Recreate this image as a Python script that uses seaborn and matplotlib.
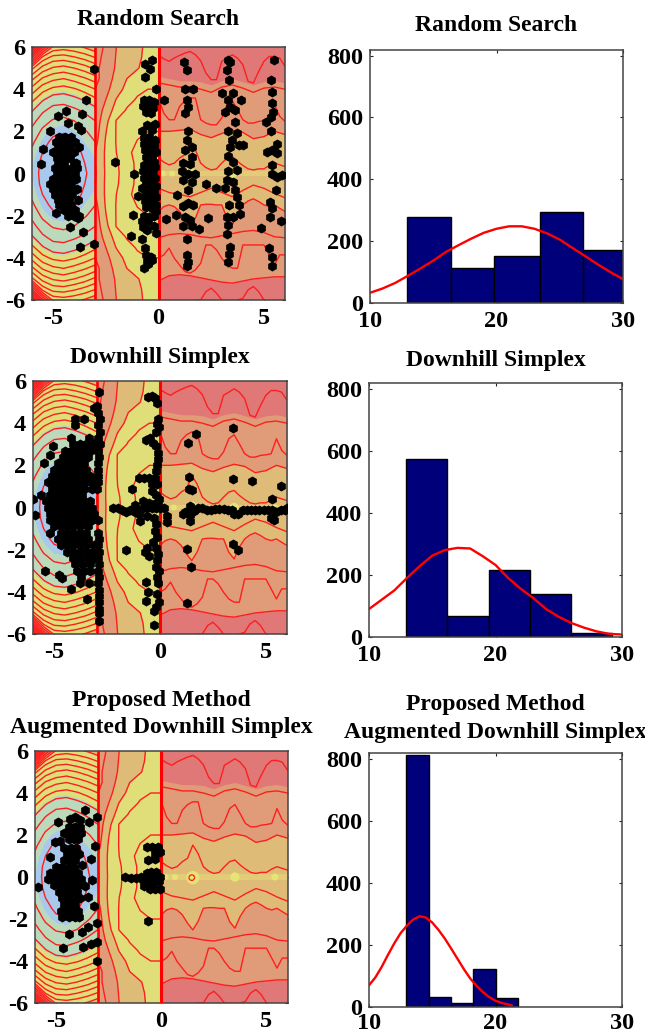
import numpy as np
import seaborn as sns
import matplotlib
matplotlib.use("Agg")
import matplotlib.pyplot as plt

sns.set_style("white")
plt.rcParams["font.family"] = ["Liberation Serif", "DejaVu Serif"]
plt.rcParams["font.weight"] = "bold"
plt.rcParams["axes.unicode_minus"] = False
plt.rcParams["text.color"] = "black"
plt.rcParams["xtick.color"] = "black"
plt.rcParams["ytick.color"] = "black"

# background field, left part (x -6..-3), rows y = 0..6, mirrored below
left_x = [-6, -5.5, -5, -4.5, -4, -3.5, -3]
half_y = [0, .5, 1, 1.5, 2, 2.5, 3, 3.5, 4, 4.5, 5, 5.5, 6]
left_z = [
    [1.5, .7, .1, 0, .3, .9, 1.4],
    [1.6, .75, .2, .1, .4, 1, 1.45],
    [1.8, 1, .4, .3, .6, 1.2, 1.6],
    [2.2, 1.3, .8, .6, .9, 1.5, 2.0],
    [2.7, 1.8, 1.2, 1.1, 1.4, 1.9, 2.4],
    [3.4, 2.4, 1.9, 1.75, 2, 2.5, 3],
    [4.1, 3.2, 2.6, 2.5, 2.8, 3.2, 3.7],
    [5.0, 4.1, 3.5, 3.4, 3.7, 4.1, 4.6],
    [6.1, 5.1, 4.6, 4.45, 4.7, 5.1, 5.6],
    [7.4, 6.3, 5.8, 5.6, 5.9, 6.3, 6.8],
    [9, 7.7, 7.1, 6.9, 7.2, 7.6, 8.2],
    [13, 9.3, 8.5, 8.4, 8.7, 9.1, 9.6],
    [18, 13, 10.2, 10, 10.2, 10.5, 11],
]
left_levels = [1, 2, 3, 4, 4.8, 5.6, 6.4, 7.2, 8, 8.8, 9.6, 10.4, 11.2, 12, 12.8, 13.6, 14.4, 15.2, 16, 16.8, 17.6]

# middle part (x -3..0)
mid_x = [-3, -2.5, -2, -1.5, -1, -.5, 0]
mid_z = [
    [4.1, 2.87, 2.2, 1.45, .8, .4, 0],
    [4, 2.85, 2.15, 1.4, .8, .45, .1],
    [4, 2.85, 2, 1.2, .75, .55, .3],
    [4.3, 2.9, 1.95, 1.45, .95, .8, .6],
    [4.5, 3.05, 1.95, 1.7, 1.2, 1, 1],
    [4.6, 3.3, 1.95, 1.7, 1.55, 1.45, 1.4],
    [4.8, 3.6, 2.6, 1.9, 1.75, 1.7, 1.65],
    [5, 4, 2.95, 2.3, 1.9, 1.85, 1.85],
    [5, 4.3, 3.45, 2.7, 2.2, 2, 2],
    [5.3, 4.5, 3.7, 3, 2.65, 2.5, 2.4],
    [5.3, 4.5, 3.9, 3.5, 3.05, 2.7, 2.6],
    [5.5, 4.6, 3.95, 3.5, 3.1, 2.85, 2.8],
    [5.6, 4.8, 4, 3.5, 3.1, 2.9, 2.85],
]

# right part (x 0..6), contour lines read directly
right_x = [0, .5, 1, 1.5, 2, 2.5, 3, 3.5, 4, 4.5, 5, 5.5, 6]
line_d = [4.3, 4.2, 4.1, 4.1, 4.0, 3.85, 4.1, 4.2, 4.05, 3.85, 4.05, 4.1, 4.0]
line_b = [2.0, 2.0, 2.05, 2.1, 1.85, 1.7, 1.9, 2.05, 1.95, 1.65, 1.75, 2.0, 1.85]
line_a2 = [-.7, -.9, -1.0, -1.1, -.9, -.7, -.9, -1.1, -.8, -.55, -.7, -.95, -1.15]
line_c2 = [-3.05, -2.9, -2.85, -2.9, -3, -3.05, -2.95, -2.85, -2.75, -2.7, -2.8, -3, -3.05]
line_e2 = [-5.1, -4.85, -4.8, -4.85, -4.95, -5.05, -5.15, -5.2, -5.1, -5, -4.95, -4.9, -4.9]
pink_top = [4.6, 4.5, 4.4, 4.4, 4.35, 4.2, 4.4, 4.5, 4.35, 4.2, 4.35, 4.4, 4.3]

# the wavy ones need a finer step
wave_x = [0, .25, .5, .75, 1, 1.25, 1.5, 1.75, 2, 2.25, 2.5, 2.75, 3, 3.25, 3.5, 3.75, 4, 4.25, 4.5, 4.75, 5, 5.25, 5.5, 5.75, 6]
line_e = [5.6, 5.44, 5.32, 5.48, 5.6, 5.71, 5.79, 5.63, 5.35, 4.76, 4.45, 4.45, 5.32, 5.47, 5.63, 5.47, 5.16, 4.37, 4.29, 4.84, 5.32, 5.55, 5.55, 5.47, 5.08]
line_c = [3.58, 2.86, 2.55, 2.55, 3.18, 3.45, 3.58, 3.58, 2.55, 2.39, 2.31, 2.31, 2.63, 3.26, 3.45, 3.02, 2.55, 2.39, 2.39, 2.47, 2.5, 2.55, 3.26, 2.71, 2.47]
line_a = [.73, .54, .41, .49, .73, .89, 1.52, 1.12, .49, .28, .17, .22, .49, .73, .81, .57, .38, .22, .17, .22, .22, .38, .49, .41, .33]
line_b2 = [-1.8, -1.57, -1.49, -1.57, -1.8, -2.2, -2.52, -2.12, -1.49, -1.46, -1.46, -1.49, -1.49, -2.12, -2.44, -1.88, -1.49, -1.3, -1.2, -1.33, -1.49, -1.57, -1.49, -1.65, -1.8]
line_d2 = [-4.02, -3.86, -3.54, -4.02, -4.34, -4.65, -4.73, -4.57, -4.26, -3.39, -3.39, -3.62, -4.02, -4.34, -4.49, -4.49, -3.39, -3.39, -3.39, -3.39, -3.39, -3.86, -4.34, -3.86, -3.86]
line_f2 = [-6.23, -6.23, -6.23, -6.23, -6.23, -6.23, -6.23, -6, -6, -5.6, -5.44, -5.68, -6, -6.23, -6.23, -6, -5.92, -5.52, -5.36, -5.6, -6, -6.23, -6.23, -6.23, -6.23]
spots_x = [.2, .65, 1.5, 3.5, 5.4]
spots_y = [0, 0, -.03, 0, 0]
spots_s = [18, 18, 90, 45, 25]

# black points, one row per y band
random_pts = [
    (-3.08, 4.95), (-3.43, 3.5), (-4.38, 2.95), (-4.79, 2.72), (-3.63, 2.8), (-4.3, 2.4), (-3.82, 2.25),
    (-3.68, 2.05), (-5.13, 2.0), (-5.48, 1.15), (-5.58, .47), (-3.59, -2.76), (-3.71, -3.5), (-3.05, -3.35),
    (-4.19, -2.53), (-3.84, -2.13), (-4.85, -1.86),
    (-4.7, 1.75), (-4.45, 1.75), (-4.15, 1.75), (-4.85, 1.5), (-4.6, 1.5), (-4.3, 1.5), (-3.95, 1.5),
    (-4.75, 1.25), (-4.5, 1.25), (-4.2, 1.25), (-3.75, 1.25), (-5.0, 1), (-4.7, 1), (-4.5, 1), (-4.25, 1), (-4.0, 1),
    (-4.8, .75), (-4.55, .75), (-4.2, .75), (-4.75, .5), (-4.5, .5), (-4.0, .5), (-3.9, .5),
    (-4.9, .25), (-4.7, .25), (-4.45, .25), (-4.1, .25), (-3.85, .25), (-4.8, 0), (-4.6, 0), (-4.35, 0), (-3.95, 0),
    (-5.0, -.25), (-4.75, -.25), (-4.5, -.25), (-4.3, -.25), (-3.9, -.25),
    (-5.15, -.5), (-4.9, -.5), (-4.65, -.5), (-4.4, -.5), (-4.15, -.5),
    (-5.0, -.75), (-4.75, -.75), (-4.5, -.75), (-4.2, -.75), (-3.85, -.75), (-4.9, -1), (-4.65, -1), (-4.4, -1), (-4.1, -1),
    (-4.75, -1.25), (-4.5, -1.25), (-4.25, -1.25), (-3.8, -1.25), (-4.7, -1.5), (-4.4, -1.5), (-4.15, -1.5),
    (-4.5, -1.75), (-4.2, -1.75), (-3.95, -1.75), (-4.3, -2), (-4.0, -2), (-3.75, -2),
    (-.32, 5.4), (-.63, 5.2), (-.4, 4.97), (-.63, 4.6), (-.1, 4.0), (.24, 3.5), (-.7, 3.5), (-.45, 3.5), (-.2, 3.4),
    (-.75, 3.2), (-.5, 3.15), (-.25, 3.1), (-.6, 2.9), (-.35, 2.85), (-.55, 2.3), (-.15, 2.35), (-.3, 2.05),
    (-.8, 2.0), (-.7, 1.7), (-.45, 1.75), (-.15, 1.6), (-.7, 1.4), (-.4, 1.4), (-.2, 1.3), (-.65, 1.1), (-.35, 1.05),
    (-.1, 1.0), (-.6, .8), (-.3, .75), (-.5, .5), (-.2, .55), (-.7, .4), (-.45, .35), (-.15, .3), (-.75, .1), (-.5, .1),
    (-.25, .05), (-1.18, 0), (-.7, -.2), (-.45, -.2), (-.15, -.2), (-.6, -.45), (-.3, -.5), (-.1, -.6), (-.8, -.7),
    (-.5, -.75), (-.2, -.85), (-.95, -1.05), (-.6, -1), (-.3, -1.05), (-.1, -1.1), (-.65, -1.3), (-.35, -1.4), (-.1, -1.5),
    (-.6, -1.6), (-.25, -1.7), (-.1, -1.8), (-1.22, -1.97), (-.7, -2), (-.45, -2.05), (-.2, -2.0), (-.8, -2.25), (-.5, -2.3),
    (-.75, -2.55), (-.55, -2.7), (-.2, -2.5), (-.1, -2.8), (-1.3, -2.97), (-.8, -3.13), (-.63, -3.55), (-.6, -3.85),
    (-.35, -3.95), (-.55, -4.15), (-.3, -4.1), (-.71, -4.47), (-.5, -4.3), (-2.05, .55),
    (1.22, 5.3), (1.34, 4.93), (1.26, 4), (1.66, 4.0), (1.34, 3.5), (1.42, 3.15), (1.26, 2.85), (1.39, 2), (1.34, 1.6),
    (1.58, 1.25), (1.26, 1.1), (1.58, .8), (1.18, .5), (1.5, .45), (1.1, .1), (1.42, 0), (1.74, 0), (1.18, -.3), (1.58, -.4),
    (1.42, -.8), (.87, -1), (1.42, -1.4), (1.66, -1.5), (1.18, -1.55), (.84, -1.97), (1.26, -2.05), (1.5, -2.2), (1.18, -2.5),
    (1.58, -2.5), (.36, -2.18), (2.34, -2.13), (1.94, -2.65), (1.37, -3.1), (1.34, -3.87), (1.42, -4.2), (1.37, -4.4),
    (2.26, -.52), (2.73, -.68),
    (3.32, 5.4), (3.24, 4.9), (3.4, 5.3), (3.35, 4.42), (3.0, 3.8), (3.55, 3.8), (3.9, 3.5), (3.3, 3.5), (3.4, 3.15), (3.16, 2.9),
    (3.63, 3.0), (3.63, 2.45), (3.3, 2), (3.7, 1.9), (3.47, 1.6), (4.0, 1.35), (3.4, 1.25), (3.8, 1.35), (3.3, .85), (3.55, .55),
    (3.32, .1), (3.7, .15), (3.24, -.3), (3.55, -.4), (3.16, -.7), (3.63, -.8), (3.7, -1.1), (3.84, -1.5), (3.35, -1.5), (3.87, -1.9),
    (3.24, -2.05), (3.55, -2.05), (3.32, -2.45), (3.27, -2.85), (3.4, -3.5), (3.36, -3.8), (3.32, -4.2),
    (5.48, 5.37), (5.32, 4.42), (5.37, 3.87), (5.37, 3.35), (5.42, 2.9), (5.32, 2.7), (5.1, 2.45), (5.32, 2.0), (5.6, 1.42),
    (5.37, 1.1), (5.13, 1.03), (5.6, .95), (5.37, .4), (5.37, 0), (5.6, -.16), (5.85, -.08), (5.56, -.76), (5.3, -1.35),
    (5.37, -1.65), (5.3, -2.05), (5.8, -2.26), (4.85, -2.57), (5.26, -3.55), (5.37, -3.95), (5.37, -4.4),
]

downhill_pts = [
    (-4.0, 4.2), (-3.6, 4.2), (-4.0, 3.9), (-3.35, 3.3), (-4.2, 3.3), (-4.1, 3), (-3.8, 3), (-3.5, 3), (-5.05, 2.9),
    (-4.5, 2.7), (-4.2, 2.7), (-3.9, 2.7), (-3.6, 2.7), (-3.3, 2.7), (-5.2, 2.5), (-4.6, 2.4), (-4.3, 2.4), (-4.0, 2.4), (-3.7, 2.4), (-3.4, 2.4),
    (-5.5, 2.1), (-4.8, 2.1), (-4.5, 2.1), (-4.2, 2.1), (-3.9, 2.1), (-3.6, 2.1),
    (-5.0, 1.8), (-4.7, 1.8), (-4.4, 1.8), (-4.1, 1.8), (-3.8, 1.8), (-3.5, 1.8),
    (-5.1, 1.5), (-4.8, 1.5), (-4.5, 1.5), (-4.2, 1.5), (-3.9, 1.5), (-3.6, 1.5), (-3.3, 1.5),
    (-5.3, 1.2), (-5.0, 1.2), (-4.7, 1.2), (-4.4, 1.2), (-4.1, 1.2), (-3.8, 1.2), (-3.5, 1.2), (-3.2, 1.2),
    (-5.1, .9), (-4.8, .9), (-4.5, .9), (-4.2, .9), (-3.9, .9), (-3.6, .9), (-3.2, .9),
    (-5.2, .6), (-4.9, .6), (-4.6, .6), (-4.3, .6), (-4.0, .6), (-3.7, .6), (-5.6, .6),
    (-5.4, .3), (-5.1, .3), (-4.8, .3), (-4.5, .3), (-4.2, .3), (-3.9, .3), (-3.6, .3), (-3.3, .3),
    (-5.3, 0), (-5.0, 0), (-4.7, 0), (-4.4, 0), (-4.1, 0), (-3.8, 0), (-3.5, 0), (-3.2, 0), (-6, .4), (-5.9, -.35),
    (-5.2, -.3), (-4.9, -.3), (-4.6, -.3), (-4.3, -.3), (-4.0, -.3), (-3.7, -.3), (-3.4, -.3), (-3.1, -.3),
    (-5.2, -.6), (-4.9, -.6), (-4.6, -.6), (-4.3, -.6), (-4.0, -.6), (-3.7, -.6), (-3.4, -.6), (-3.2, -.6),
    (-5.0, -.9), (-4.7, -.9), (-4.4, -.9), (-4.1, -.9), (-3.8, -.9), (-3.4, -.9),
    (-5.2, -1.2), (-4.7, -1.2), (-4.4, -1.2), (-4.1, -1.2), (-3.8, -1.2), (-3.5, -1.2),
    (-4.8, -1.5), (-4.5, -1.5), (-4.2, -1.5), (-3.9, -1.5), (-3.6, -1.5), (-3.4, -1.5),
    (-4.7, -1.8), (-4.4, -1.8), (-4.1, -1.8), (-3.8, -1.8), (-3.5, -1.8), (-3.1, -1.8),
    (-4.4, -2.1), (-4.1, -2.1), (-3.8, -2.1), (-3.5, -2.1), (-3.2, -2.1),
    (-4.1, -2.4), (-3.8, -2.4), (-3.4, -2.4), (-3.1, -2.4), (-4.0, -2.7), (-3.7, -2.7), (-3.3, -2.7),
    (-5.45, -3), (-3.9, -3), (-3.6, -3), (-3.3, -3), (-4.75, -3.2), (-4.65, -3.35), (-3.75, -3.3), (-3.8, -3.6), (-3.35, -3.6),
    (-4.2, -3.85), (-3.45, -4.35),
    (-2.9, 5.5), (-3.0, 4.8), (-2.95, 4.5), (-2.85, 4.2), (-2.95, 3.9), (-2.85, 3.6), (-2.95, 3.3), (-2.85, 3), (-2.95, 2.7),
    (-2.9, 2.4), (-2.95, 2.1), (-2.95, 1.8), (-2.95, 1.5), (-2.95, 1.2), (-3.0, .9), (-2.95, -.6), (-2.95, -1.2), (-2.9, -1.5),
    (-2.95, -1.8), (-2.9, -2.1), (-2.95, -2.4), (-2.9, -2.7), (-2.95, -3), (-2.9, -3.3), (-2.95, -3.6), (-2.9, -3.9),
    (-2.9, -4.2), (-2.9, -4.5), (-2.9, -4.8), (-2.9, -5.0), (-2.9, -5.4), (-3.1, 4.7), (-3.1, 3.0),
    (-2.2, 0), (-2.0, 0), (-1.8, -.1), (-1.6, -.2), (-1.4, -.1), (-1.2, -.2), (-1, -.1), (-.8, 0), (-.6, 0), (-.4, 0), (-.2, 0), (0, 0), (.2, 0),
    (-1.0, -.3), (-.8, .3), (-.6, -.4), (-.3, -.5), (-1.2, .1), (-.5, .2), (-.2, .2), (-.95, -.65), (-1.34, .88), (.32, -.4),
    (-1.0, 1.4), (-.75, 1.4), (-.5, 1.4), (-.25, 1.4), (-.4, 1.1), (-.15, 1.1), (-.4, .8), (-.2, .6), (-.05, .4), (-.1, .2),
    (-.58, 5.25), (-.24, 5.17), (-.15, 4.95), (-.4, 5.3), (-.08, 4.2), (-.15, 3.95), (-.05, 3.8), (-.2, 3.6), (-.45, 3.3), (-.65, 3.2),
    (-.35, 3.05), (-.2, 2.9), (-.1, 2.6), (-.1, 2.3), (-.15, 2.0), (-.2, 1.75),
    (-.2, -.8), (-.25, -1.1), (-.15, -1.4), (-.35, -1.65), (-.6, -1.9), (-.7, -2.1), (-.5, -2.3), (-.2, -1.9), (-.1, -2.2), (-.15, -2.5),
    (-.2, -2.8), (-.05, -3), (-.15, -3.3), (-.1, -3.6), (-.65, -3.55), (-.55, -4.0), (-.65, -4.45), (-.15, -4.1), (-.2, -4.7), (-.05, -4.5),
    (-.3, -4.9), (-.3, -5.55), (-1.6, -2.0),
    (1.7, 3.5), (1.34, 3.05), (3.47, 3.75), (1.37, 1.43), (1.39, .87), (1.5, .85), (3.47, 1.35), (4.34, 1.28), (5.7, 1.0), (5.28, .41),
    (1.2, -.2), (1.4, .05), (1.4, -.35), (1.6, -.15), (1.8, 0), (2.0, 0), (2.2, -.1), (2.4, -.1), (2.6, -.05), (2.8, -.05), (3.0, -.05),
    (3.2, -.1), (3.4, -.1), (3.5, -.3), (3.7, -.3), (3.9, -.1), (4.1, -.1), (4.3, -.1), (4.5, -.1), (4.7, -.1), (4.9, -.1), (5.1, -.1),
    (5.3, -.1), (5.25, -.5), (5.4, -.6), (5.5, -.2), (5.7, -.1), (5.9, -.1), (6, 0), (1.42, -.66), (1.1, -.3), (.35, -.7),
    (1.29, -1.95), (1.45, -2.8), (3.47, -1.72), (3.7, -2.03), (1.29, -4.55),
]

proposed_pts = [
    (-3.62, 3.2), (-3.07, 2.85), (-3.42, 2.6), (-4.89, 2.6), (-4.1, 2.85), (-3.86, 2.72), (-4.34, 2.77), (-5.87, -.47), (-3.15, 1.5),
    (-3.35, .87), (-3.75, .55), (-3.28, -.16), (-3.62, -.44), (-3.5, -.95), (-3.2, -1.4), (-3.07, -2.18), (-3.78, -2.6), (-3.46, -2.4),
    (-4.38, -2.7), (-4.68, -3.37), (-3.73, -3.35), (-3.35, -3.2), (-3.07, -3.08), (-3.07, -4.0),
    (-4.4, 2.4), (-4.1, 2.4), (-3.85, 2.4), (-4.6, 2.1), (-4.3, 2.1), (-4.0, 2.1), (-3.8, 2.1), (-4.4, 1.8), (-4.15, 1.8), (-3.95, 1.8),
    (-5.05, 1.65), (-4.8, 1.7), (-4.6, 1.4), (-4.3, 1.4), (-4.05, 1.4), (-4.5, 1.1), (-4.2, 1.1), (-3.9, 1.1),
    (-5.28, .95), (-4.6, .8), (-4.35, .8), (-4.1, .8), (-5.0, .5), (-4.7, .5), (-4.4, .5), (-4.15, .5),
    (-5.3, .2), (-5.05, .2), (-4.8, .2), (-4.5, .2), (-4.2, .2), (-3.95, .2),
    (-5.4, -.1), (-5.15, -.1), (-4.9, -.1), (-4.6, -.1), (-4.3, -.1), (-4.0, -.1), (-3.8, -.1),
    (-5.1, -.4), (-4.8, -.4), (-4.5, -.4), (-4.2, -.4), (-3.9, -.4), (-4.85, -.7), (-4.6, -.7), (-4.3, -.7), (-4.0, -.7),
    (-4.7, -1), (-4.45, -1), (-4.2, -1), (-3.85, -1), (-4.6, -1.3), (-4.35, -1.3), (-4.1, -1.3),
    (-4.75, -1.6), (-4.5, -1.6), (-4.2, -1.6), (-3.95, -1.6), (-4.7, -1.9), (-4.4, -1.9), (-4.1, -1.9), (-3.9, -1.9),
    (-1.7, 0), (-1.45, -.05), (-1.2, -.05), (-.95, 0), (-.7, .05), (-.45, .05), (-.2, .05), (-.05, 0),
    (-.85, -.15), (-.6, -.25), (-.35, -.25), (-.1, -.2), (-.8, -.45), (-.55, -.55), (-.3, -.55), (-.05, -.55), (-.7, .2), (-.5, .25), (-.25, .25),
    (-.7, 1.43), (-.46, 1.43), (-.14, 1.43), (-.3, 1.1), (-.06, 1.2), (-.62, .8), (-.3, .87), (-.65, -2.09),
]

# histograms
random_edges = [12.9, 16.4, 19.8, 23.4, 26.8, 30]
random_counts = [278, 113, 153, 294, 172]
downhill_edges = [12.93, 16.2, 19.45, 22.75, 26, 29.2]
downhill_counts = [572, 68, 215, 137, 13]
proposed_edges = [12.9, 14.75, 16.5, 18.2, 20, 21.75]
proposed_counts = [810, 32, 12, 121, 28]

# red fitted curves
random_cx = list(range(10, 31))
random_cy = [33, 47, 65, 88, 112, 137, 165, 187, 208, 227, 240, 248, 248, 240, 225, 205, 178, 152, 125, 100, 77]
downhill_cx = list(range(10, 31))
downhill_cy = [90, 120, 150, 190, 228, 262, 280, 287, 285, 260, 232, 190, 155, 125, 90, 65, 45, 30, 18, 10, 8]
proposed_cx = [10, 10.5, 11, 11.5, 12, 12.5, 13, 13.5, 14, 14.5, 15, 15.5, 16, 16.5, 17, 17.5, 18, 18.5, 19, 19.5, 20, 20.5, 21, 21.3]
proposed_cy = [70, 95, 129, 168, 205, 238, 262, 282, 292, 288, 272, 248, 220, 188, 155, 122, 92, 68, 48, 32, 20, 13, 8, 5]

titles = ["Random Search", "Downhill Simplex", "Proposed Method\nAugmented Downhill Simplex"]

W, H = 645, 1032
RED = "#FF1E1E"
# left, top, right, bottom in pixels
left_boxes = [(32, 47, 285, 300), (33, 381, 287, 634), (35, 751, 287.5, 1003)]
right_boxes = [(370, 50, 623, 303), (369, 383, 622, 637), (369, 753, 622, 1007)]
title_pads = [[16, 14], [13, 12], [13, 11]]
x_pads = [[6, 6], [6, 6], [6, 4]]


def add_axes(fig, box):
    l, t, r, b = box
    return fig.add_axes([l / W, 1 - b / H, (r - l) / W, (b - t) / H])


def style_axes(ax, xpad):
    for sp in ax.spines.values():
        sp.set_visible(True)
        sp.set_color("#444444")
        sp.set_linewidth(1.1)
    ax.tick_params(direction="in", length=2, width=.8, color="#222222", labelsize=17.5,
                   top=True, right=True, bottom=True, left=True, labeltop=False, labelright=False)
    ax.tick_params(axis="x", pad=xpad)
    ax.tick_params(axis="y", pad=5)
    for lab in ax.get_xticklabels() + ax.get_yticklabels():
        lab.set_fontweight("bold")


def mirrored(rows):
    z = np.array(rows)
    return np.vstack([z[:0:-1], z])


def draw_field(ax):
    full_y = [-v for v in half_y[:0:-1]] + half_y
    # left part, ellipse around the minimum
    ax.contourf(left_x, full_y, mirrored(left_z), levels=[-1, 1.5, 4.3, 10.5, 11.5, 13, 99],
                colors=["#A8C8EC", "#BCD9BC", "#E0DE78", "#DEBC78", "#E09C78", "#E07878"], zorder=1)
    ax.contour(left_x, full_y, mirrored(left_z), levels=left_levels, colors=RED, linewidths=1, zorder=2)
    # middle part
    ax.contourf(mid_x, full_y, mirrored(mid_z), levels=[-1, 3, 4, 9],
                colors=["#E0DE78", "#DEBC78", "#E09C78"], zorder=1)
    ax.contour(mid_x, full_y, mirrored(mid_z), levels=[1, 2, 3, 4, 5], colors=RED, linewidths=1, zorder=2)
    # right part, bands then wavy lines
    ax.fill_between(right_x, -6, 6, color="#E07878", lw=0, zorder=1)
    ax.fill_between(right_x, line_e2, pink_top, color="#E09C78", lw=0, zorder=1.1)
    ax.fill_between(wave_x, line_b2, 0, color="#DEBC78", lw=0, zorder=1.2)
    ax.fill_between(right_x, 0, line_b, color="#DEBC78", lw=0, zorder=1.2)
    ax.fill_between(right_x, -.12, .12, color="#E2CC78", lw=0, zorder=1.3)
    ax.scatter(spots_x, spots_y, s=spots_s, color="#E6E474", linewidths=0, zorder=1.5)
    ax.scatter([1.45], [-.03], s=16, facecolors="none", edgecolors=RED, linewidths=.9, zorder=2)
    for line in [line_d, line_b, line_a2, line_c2, line_e2]:
        ax.plot(right_x, line, color=RED, lw=1, zorder=2)
    for line in [line_e, line_c, line_a, line_b2, line_d2, line_f2]:
        ax.plot(wave_x, line, color=RED, lw=1, zorder=2)
    # jumps at the region borders
    ax.axvline(-3, color="#FF0000", lw=1.9, zorder=3)
    ax.axvline(0, color="#FF0000", lw=2.2, zorder=3)


fig = plt.figure(figsize=(W / 100, H / 100), dpi=100)

all_pts = [random_pts, downhill_pts, proposed_pts]
all_hist = [(random_edges, random_counts, random_cx, random_cy),
            (downhill_edges, downhill_counts, downhill_cx, downhill_cy),
            (proposed_edges, proposed_counts, proposed_cx, proposed_cy)]

for i in range(3):
    ax = add_axes(fig, left_boxes[i])
    draw_field(ax)
    pts = np.array(all_pts[i])
    sns.scatterplot(x=pts[:, 0], y=pts[:, 1], color="black", s=52, marker="h", linewidth=0,
                    zorder=4, ax=ax, clip_on=True)
    ax.set_xlim(-6, 6)
    ax.set_ylim(-6, 6)
    ax.set_xticks([-5, 0, 5])
    ax.set_yticks([-6, -4, -2, 0, 2, 4, 6])
    style_axes(ax, x_pads[i][0])
    ax.set_title(titles[i], fontsize=17, fontweight="bold", pad=title_pads[i][0], linespacing=1.4)

    edges, counts, cx, cy = all_hist[i]
    ax = add_axes(fig, right_boxes[i])
    sns.histplot(x=edges[:-1], weights=counts, bins=edges, color="#00007A", edgecolor="black",
                 linewidth=1, alpha=1, ax=ax)
    sns.lineplot(x=cx, y=cy, color="#FF0000", lw=1.7, errorbar=None, ax=ax)
    ax.set_xlim(10, 30)
    ax.set_ylim(0, 818)
    ax.set_xticks([10, 20, 30])
    ax.set_yticks([0, 200, 400, 600, 800])
    ax.set_ylabel("")
    style_axes(ax, x_pads[i][1])
    ax.set_title(titles[i], fontsize=17, fontweight="bold", pad=title_pads[i][1], linespacing=1.4)

fig.savefig("out.png", dpi=100)
